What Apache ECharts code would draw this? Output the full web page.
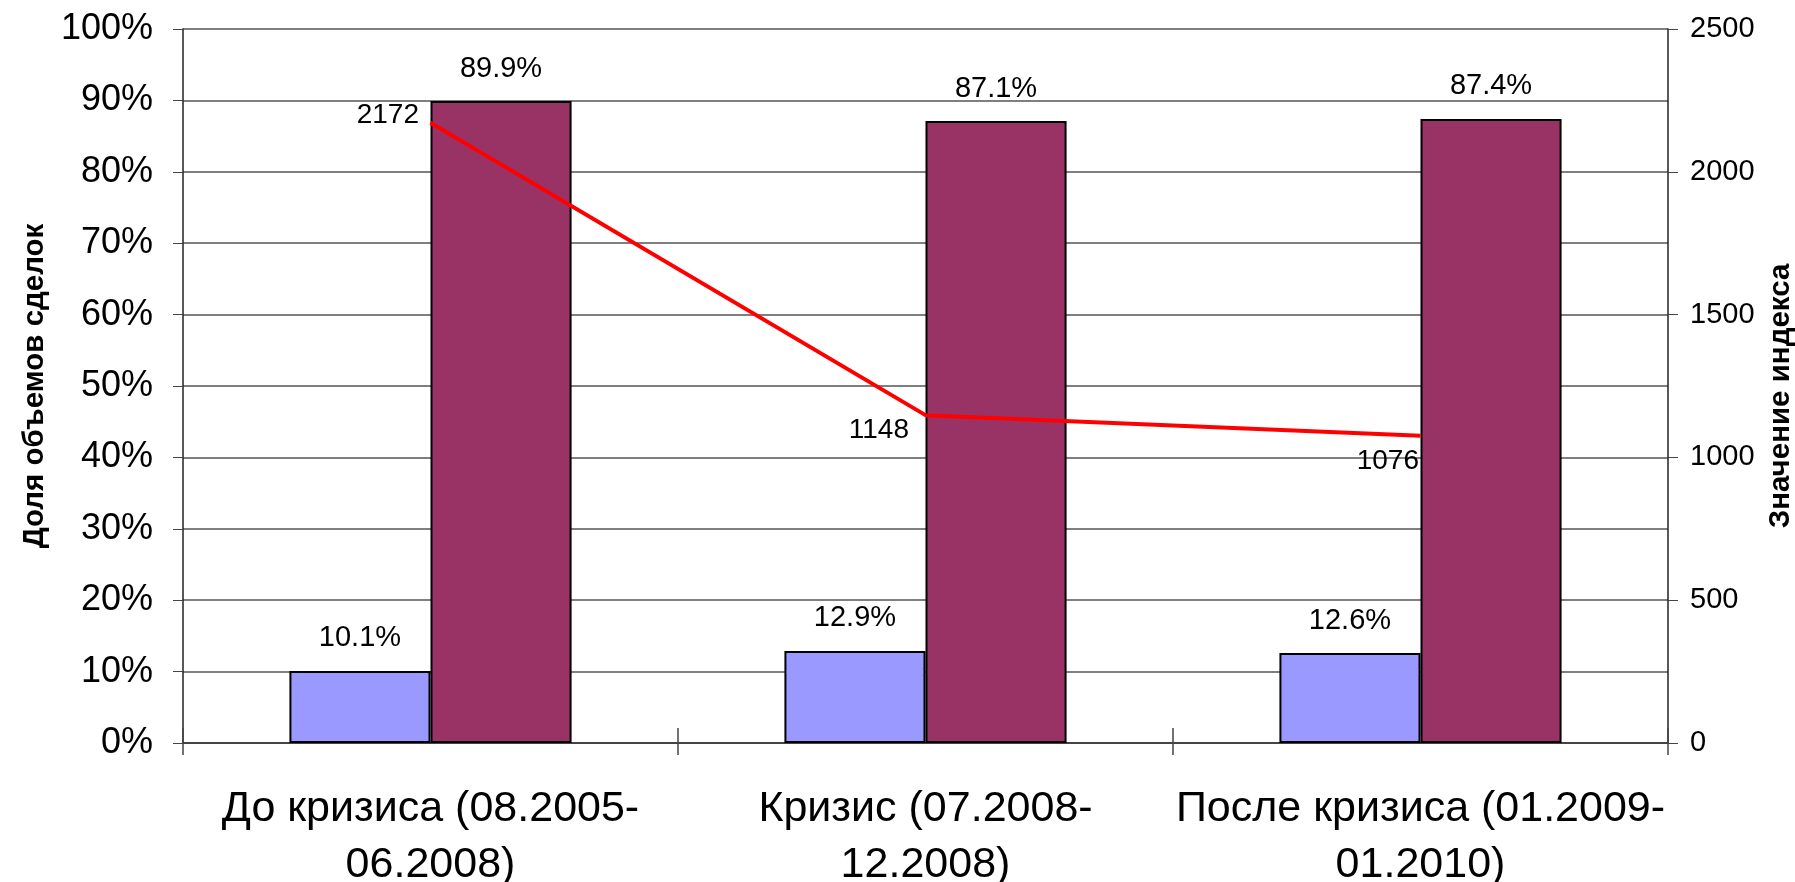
<!DOCTYPE html>
<html>
<head>
<meta charset="utf-8">
<script src="https://cdn.jsdelivr.net/npm/echarts@6/dist/echarts.min.js"></script>
<style>
  html, body { margin: 0; padding: 0; background: #fff; }
  #main { width: 1795px; height: 882px; }
</style>
</head>
<body>
<div id="main"></div>
<script>
// категории (периоды)
const periods = ["До кризиса (08.2005-\n06.2008)", "Кризис (07.2008-\n12.2008)", "После кризиса (01.2009-\n01.2010)"];
// доли объемов сделок, %
const shareLow = [10.1, 12.9, 12.6];
const shareHigh = [89.9, 87.1, 87.4];
// значение индекса
const indexValues = [2172, 1148, 1076];
const pctTicks = { min: 0, max: 100, step: 10 };
const idxTicks = { min: 0, max: 2500, step: 500 };

// сдвиги подписей линии (как расставлены вручную в оригинале)
const idxLabelDist = [11, 16, 1];
const idxLabelShift = [[0, -7], [0, 15], [0, 26]];

const FONT = "'Liberation Sans', Arial, sans-serif";

let chart = echarts.init(document.getElementById("main"));

let barLabel = {
  show: true,
  position: "top",
  distance: 18,
  color: "#000",
  fontFamily: FONT,
  fontSize: 29,
  formatter: (p) => p.value.toFixed(1) + "%",
};

let nameStyle = { fontFamily: FONT, fontSize: 29.5, fontWeight: "bold", color: "#000" };

let option = {
  animation: false,
  backgroundColor: "#fff",
  grid: { left: 183, right: 127, top: 29, bottom: 139, containLabel: false, outerBoundsMode: "none" },
  xAxis: [
    {
      type: "category",
      data: periods,
      position: "bottom",
      axisLine: { lineStyle: { color: "#444", width: 2 } },
      axisTick: { show: true, length: 12, lineStyle: { color: "#444", width: 1.5 } },
      axisLabel: {
        interval: 0,
        margin: 38,
        color: "#000",
        fontFamily: FONT,
        fontSize: 43,
        lineHeight: 56,
      },
    },
    {
      // верхняя часть засечек, пересекающих ось
      type: "category",
      data: periods,
      position: "bottom",
      axisLine: { show: false },
      axisTick: { show: true, inside: true, length: 15, lineStyle: { color: "#444", width: 1.5 } },
      axisLabel: { show: false },
    },
  ],
  yAxis: [
    {
      type: "value",
      min: pctTicks.min,
      max: pctTicks.max,
      interval: pctTicks.step,
      name: "Доля объемов сделок",
      nameLocation: "middle",
      nameGap: 127,
      nameTextStyle: nameStyle,
      axisLine: { show: true, lineStyle: { color: "#222", width: 1.5 } },
      axisTick: { show: true, length: 10, lineStyle: { color: "#444" } },
      axisLabel: {
        margin: 30,
        color: "#000",
        fontFamily: FONT,
        fontSize: 36,
        formatter: "{value}%",
      },
      splitLine: { show: true, lineStyle: { color: "#555", width: 1.5 } },
    },
    {
      type: "value",
      position: "right",
      min: idxTicks.min,
      max: idxTicks.max,
      interval: idxTicks.step,
      name: "Значение индекса",
      nameLocation: "middle",
      nameRotate: 90,
      nameGap: 98,
      nameTextStyle: Object.assign({}, nameStyle, { padding: [0, 20, 0, 0] }),
      axisLine: { show: true, lineStyle: { color: "#222", width: 1.5 } },
      axisTick: { show: true, length: 10, lineStyle: { color: "#444" } },
      axisLabel: {
        margin: 22,
        color: "#000",
        fontFamily: FONT,
        fontSize: 29,
        formatter: (v) => String(v),
      },
      splitLine: { show: false },
    },
  ],
  series: [
    {
      type: "bar",
      data: shareLow,
      barGap: "0%",
      barCategoryGap: "43%",
      itemStyle: { color: "#9999FF", borderColor: "#000", borderWidth: 2 },
      label: barLabel,
    },
    {
      type: "bar",
      data: shareHigh,
      barGap: "0%",
      barCategoryGap: "43%",
      itemStyle: { color: "#993366", borderColor: "#000", borderWidth: 2 },
      label: barLabel,
    },
    {
      type: "line",
      yAxisIndex: 1,
      data: indexValues.map((v, i) => ({
        value: v,
        label: { distance: idxLabelDist[i], offset: idxLabelShift[i] },
      })),
      symbol: "circle",
      symbolSize: 1,
      itemStyle: { color: "#FF0000" },
      lineStyle: { color: "#FF0000", width: 4 },
      z: 3,
      label: {
        show: true,
        position: "left",
        color: "#000",
        fontFamily: FONT,
        fontSize: 28,
      },
    },
  ],
};
chart.setOption(option);
</script>
</body>
</html>
